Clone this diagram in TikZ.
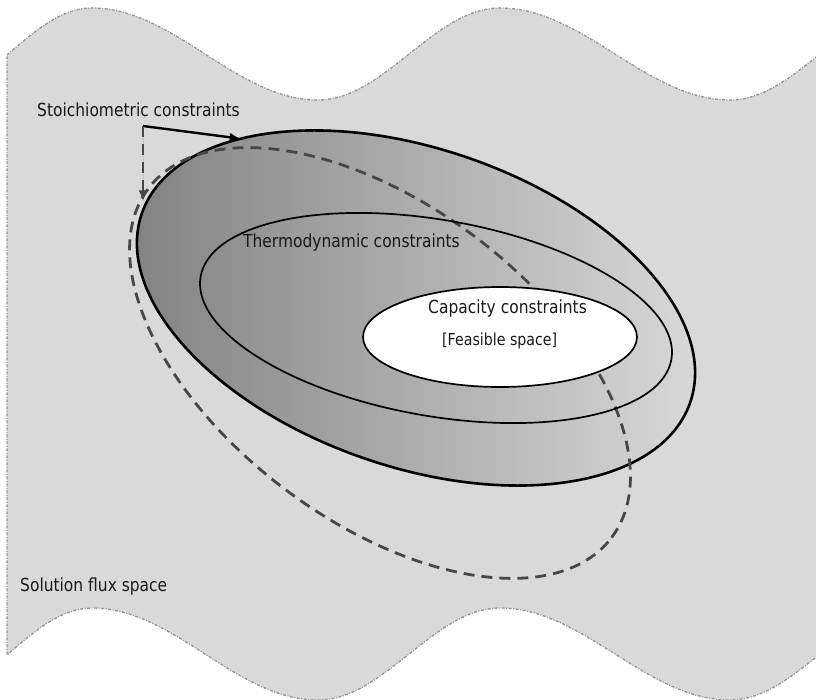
\documentclass[tikz,border=0pt]{standalone}
\usepackage{fontspec}
\setmainfont[FakeStretch=0.86]{DejaVu Sans}
\usetikzlibrary{shapes,arrows,arrows.meta,positioning}
\tikzset{
        region/.style={ellipse, inner sep=0pt, outer sep=0pt},
        % Whole flux space
        flux_space/.style={fill=black!15, draw=black!42, line width=1.3pt, dash pattern=on 3pt off 1.5pt on 1pt off 1.5pt},
        % Stoichiometric region
        region_stoich/.style={region, draw=black, line width=2.6pt, shade, shading angle=70, left color=black!50, right color=black!14, minimum width=580pt, minimum height=318pt, rotate=-19},
        % Stoichiometric region, other orientation
        region_stoich_alt/.style={region, draw=black!72, line width=2.8pt, dash pattern=on 11pt off 7pt, minimum width=580pt, minimum height=316pt, rotate=-37},
        % Thermodynamic region
        region_thermo/.style={region, draw=black, line width=1.7pt, minimum width=478pt, minimum height=196pt, rotate=-10},
        % Capacity region
        region_capacity/.style={region, draw=black, line width=1.7pt, fill=white, minimum width=274pt, minimum height=100pt},
        label_text/.style={anchor=base west, inner sep=0pt, text=black!90, font=\fontsize{18}{20}\selectfont},
        pointer/.style={-{Latex[length=11pt, width=9pt]}, line width=2.4pt}
}
\begin{document}
\begin{tikzpicture}[x=1pt, y=-1pt]
            \useasboundingbox (0,0) rectangle (816,700);
            \clip (0,0) rectangle (816,700);
            % wavy background
            \draw[flux_space] (7,55) sin (92,8) cos (205,54) sin (318,100) cos (409,54) sin (500,8)
                cos (615,54) sin (730,100) cos (820,54) sin (910,8) -- (910,608)
                cos (820,654) sin (730,700) cos (615,654) sin (500,608) cos (409,654) sin (318,700)
                cos (205,654) sin (92,608) cos (7,655) -- cycle;
            \node[region_stoich] (stoich) at (416,308) {};
            \node[region_stoich_alt] (stoich_alt) at (380,363) {};
            \node[region_thermo] (thermo) at (436,318) {};
            \node[region_capacity] (capacity) at (500,337) {};
            % labels
            \node[label_text] (stoich_label) at (37,117) {Stoichiometric constraints};
            \node[label_text] (thermo_label) at (243,248) {Thermodynamic constraints};
            \node[label_text] (capacity_label) at (428,314) {Capacity constraints};
            \node[label_text, font=\fontsize{16.5}{18}\selectfont] (feasible_label) at (442,345) {[Feasible space]};
            \node[label_text] (space_label) at (20,591) {Solution flux space};
            % pointers
            \coordinate (stoich_corner) at (143,126);
            \draw[pointer] (stoich_corner) -- (stoich.155);
            \draw[pointer, draw=black!72, fill=black!72, line width=2.8pt, dash pattern=on 11pt off 7pt] (stoich_corner) -- (stoich_corner |- stoich_alt.183);
\end{tikzpicture}
\end{document}
